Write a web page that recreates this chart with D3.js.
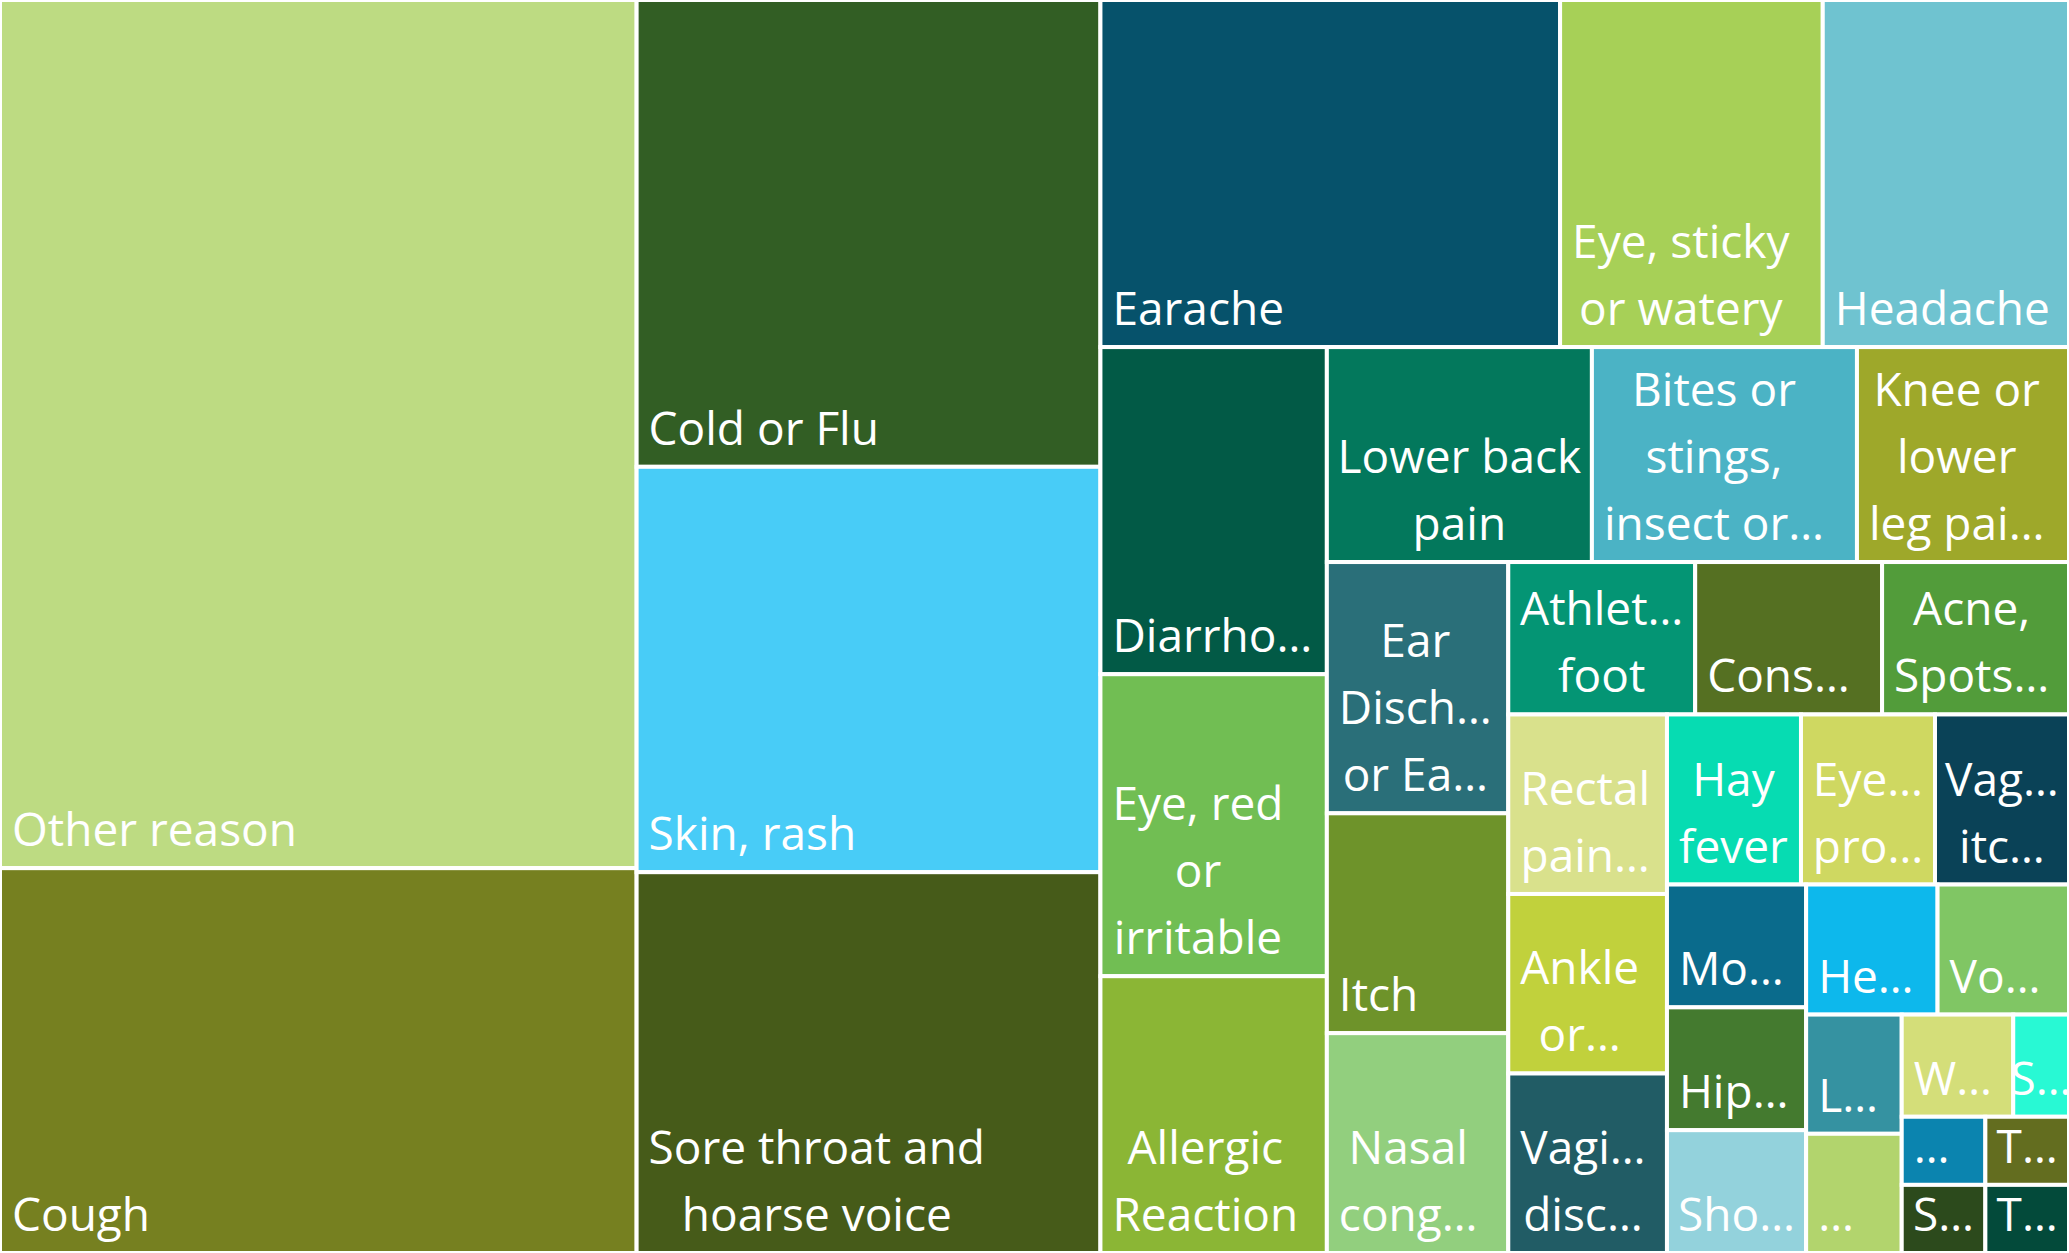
<!DOCTYPE html>
<html>
<head>
<meta charset="utf-8">
<script src="https://cdn.jsdelivr.net/npm/d3@7"></script>
<style>
  html, body { margin: 0; padding: 0; background: #fff; overflow: hidden; }
  .tile-label { font-family: "Open Sans", "Noto Sans", sans-serif; fill: #fff; }
</style>
</head>
<body>
<div id="chart"></div>
<script>
// Reasons for consultation, one tile each
var categories = [
    "Other reason", "Cough", "Cold or Flu", "Skin, rash", "Sore throat and hoarse voice",
    "Earache", "Eye, sticky or watery", "Headache", "Diarrhoea", "Eye, red or irritable",
    "Allergic Reaction", "Lower back pain", "Bites or stings, insect or animal", "Knee or lower leg pain", "Ear Discharge or Earwax",
    "Itch", "Nasal congestion", "Athlete's foot", "Constipation", "Acne, Spots and Pimples",
    "Rectal pain or bleeding", "Ankle or foot pain", "Vaginal discharge", "Hay fever", "Eyelid problems",
    "Vaginal itch or soreness", "Mouth ulcers", "Hip or thigh pain", "Shoulder pain", "Head lice",
    "Vomiting", "Leg cramps", "…", "Wrist pain", "Sinusitis",
    "…", "Sprain", "Toothache", "Teething"
];

// text as it shows on each tile ("\n" = line break)
var labels = [
    "Other reason", "Cough", "Cold or Flu", "Skin, rash", "Sore throat and\nhoarse voice",
    "Earache", "Eye, sticky\nor watery", "Headache", "Diarrho…", "Eye, red\nor\nirritable",
    "Allergic\nReaction", "Lower back\npain", "Bites or\nstings,\ninsect or…", "Knee or\nlower\nleg pai…", "Ear\nDisch…\nor Ea…",
    "Itch", "Nasal\ncong…", "Athlet…\nfoot", "Cons…", "Acne,\nSpots…",
    "Rectal\npain…", "Ankle\nor…", "Vagi…\ndisc…", "Hay\nfever", "Eye…\npro…",
    "Vag…\nitc…", "Mo…", "Hip…", "Sho…", "He…",
    "Vo…", "L…", "…", "W…", "S…",
    "…", "S…", "T…", "T…"
];

var counts = [
    97, 43, 38, 33, 31,
    28, 16, 15, 13, 12,
    11, 10, 10, 8, 8,
    7, 7, 5, 5, 5,
    5, 5, 5, 4, 4,
    4, 3, 3, 3, 3,
    3, 2, 2, 2, 1,
    1, 1, 1, 1
];

var colors = [
    "#bddb82", "#768020", "#325e24", "#48ccf7", "#465b19",
    "#06526b", "#a7d057", "#6fc3d0", "#025a46", "#71be53",
    "#8bb635", "#03785c", "#4bb3c5", "#9ea82a", "#2a6f79",
    "#6e932a", "#92cf7e", "#049574", "#557022", "#529c3a",
    "#d9e18c", "#c1d13c", "#215c65", "#06dcb2", "#cfd861",
    "#0a4257", "#0a6b8c", "#447a2f", "#93d2dc", "#0db8ec",
    "#80c664", "#3592a1", "#b2d46d", "#d4de79", "#28f9d4",
    "#0b84af", "#2c4a1c", "#636d1f", "#034a3a"
];

var width = 2069;
var height = 1253;
var fontSize = 46;
var lineHeight = 67;
var padLeft = 12;
var padBottom = 22;

var svg = d3.select("#chart").append("svg")
    .attr("width", width)
    .attr("height", height);

var data = {
    children: categories.map(function(c, i) {
        return {name: c, label: labels[i], value: counts[i], color: colors[i]};
    })
};

var root = d3.hierarchy(data)
    .sum(function(d) { return d.value || 0; })
    .sort(function(a, b) { return b.value - a.value; });

d3.treemap()
    .tile(d3.treemapSquarify.ratio(1))
    .size([width, height])
    .round(false)(root);

var tiles = svg.selectAll("g.tile")
    .data(root.leaves())
    .enter()
    .append("g")
    .attr("class", "tile");

tiles.append("rect")
    .attr("x", function(d) { return d.x0; })
    .attr("y", function(d) { return d.y0; })
    .attr("width", function(d) { return d.x1 - d.x0; })
    .attr("height", function(d) { return d.y1 - d.y0; })
    .style("fill", function(d) { return d.data.color; })
    .style("stroke", "#fff")
    .style("stroke-width", 4);

// labels: lines centred on each other, block sits at the bottom-left of the tile
tiles.each(function(d) {
    var g = d3.select(this);
    var lines = d.data.label.split("\n");
    var n = lines.length;
    var text = g.append("text")
        .attr("class", "tile-label")
        .style("font-size", fontSize + "px")
        .attr("text-anchor", "middle");

    var spans = text.selectAll("tspan")
        .data(lines)
        .enter()
        .append("tspan")
        .attr("y", function(l, i) { return d.y1 - padBottom - (n - 1 - i) * lineHeight; })
        .text(function(l) { return l; });

    var maxW = 0;
    spans.each(function() {
        var w = this.getComputedTextLength();
        if (w > maxW) maxW = w;
    });
    var cellW = d.x1 - d.x0;
    var left = d.x0 + padLeft;
    if (maxW > cellW - 2 * padLeft) {
        left = d.x0 + (cellW - maxW) / 2; // too wide: centre it, overflow both sides
    }
    spans.attr("x", left + maxW / 2);
});
</script>
</body>
</html>
